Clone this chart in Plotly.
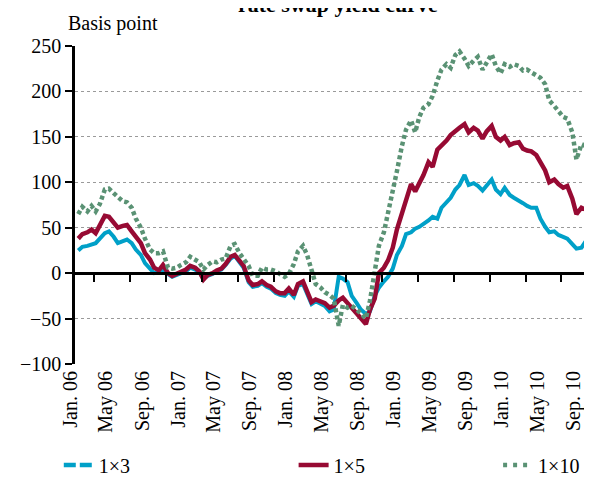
import pandas as pd
import plotly.graph_objects as go

# ---- data (semi-monthly readings, basis points) ----
dates = pd.date_range("2006-01-01", "2010-10-15", freq="SMS")

y_1x3 = [25, 29, 30, 31, 33, 38, 44, 46, 40, 33, 35, 37, 33, 26, 20, 11, 5, 0, 1, 3, -1, -4, -2, 0,
         2, 6, 4, 1, -6, -3, -1, 2, 4, 9, 16, 19, 12, 6, -10, -15, -14, -11, -15, -17, -22, -24, -25, -20,
         -26, -14, -12, -23, -34, -31, -34, -36, -42, -40, -4, -6, -10, -25, -33, -40, -45, -42, -25, -16, -9, -4, 5, 20,
         30, 43, 45, 49, 51, 54, 58, 62, 60, 72, 78, 83, 92, 97, 108, 97, 99, 96, 91, 97, 103, 92, 87, 94,
         86, 83, 79, 77, 74, 72, 72, 60, 51, 45, 46, 42, 40, 38, 32, 27, 28, 35, 30, 37]

y_1x5 = [38, 43, 45, 48, 44, 52, 63, 62, 55, 50, 52, 53, 46, 40, 33, 22, 15, 6, 3, 9, 0, -3, -1, 1,
         4, 8, 6, 2, -7, -2, 0, 3, 5, 10, 18, 20, 14, 8, -8, -13, -12, -9, -13, -15, -20, -22, -22, -17,
         -24, -12, -9, -20, -32, -29, -31, -33, -38, -36, -30, -27, -33, -38, -45, -50, -56, -40, -28, 0, 6, 14, 28, 48,
         65, 80, 98, 90, 98, 108, 122, 117, 136, 140, 146, 152, 157, 160, 164, 155, 160, 157, 148, 156, 162, 150, 146, 150,
         141, 143, 144, 137, 135, 134, 130, 123, 113, 100, 103, 98, 94, 96, 82, 65, 72, 70, 72, 72]

y_1x10 = [65, 73, 68, 74, 68, 76, 92, 93, 88, 84, 79, 78, 72, 60, 50, 38, 26, 22, 22, 24, 6, 5, 6, 9,
          12, 18, 15, 12, 4, 9, 13, 12, 15, 16, 30, 32, 22, 16, 8, -3, -3, 6, 4, 4, 2, -1, -4, -1,
          10, 24, 30, 20, 2, -12, -16, -21, -24, -28, -58, -35, -38, -36, -40, -44, -50, -30, 5, 30, 45, 65, 88, 112,
          140, 158, 168, 155, 172, 182, 186, 195, 212, 224, 230, 226, 240, 244, 236, 228, 234, 238, 224, 232, 241, 228, 220, 230,
          227, 230, 228, 223, 224, 221, 218, 215, 208, 190, 184, 178, 172, 170, 155, 125, 142, 140, 138, 135]

label_dates = ["2006-01-01", "2006-05-01", "2006-09-01", "2007-01-01", "2007-05-01", "2007-09-01",
               "2008-01-01", "2008-05-01", "2008-09-01", "2009-01-01", "2009-05-01", "2009-09-01",
               "2010-01-01", "2010-05-01", "2010-09-01"]
tick_labels = ["Jan. 06", "May 06", "Sep. 06", "Jan. 07", "May 07", "Sep. 07", "Jan. 08", "May 08",
               "Sep. 08", "Jan. 09", "May 09", "Sep. 09", "Jan. 10", "May 10", "Sep. 10"]
tick_mark_dates = ["2006-02-25", "2006-06-25", "2006-10-25", "2007-02-25", "2007-06-25", "2007-10-25",
                   "2008-02-25", "2008-06-25", "2008-10-25", "2009-02-25", "2009-06-25", "2009-10-25",
                   "2010-02-25", "2010-06-25", "2010-10-25"]

series_names = ["1×3", "1×5", "1×10"]
colors = ["#00A0C8", "#970A33", "#5A9274"]

FONT = "Liberation Serif, Times New Roman, DejaVu Serif, serif"
x_range = ["2005-12-21", "2010-10-27"]

fig = go.Figure()

# plotted lines
fig.add_trace(go.Scatter(x=dates, y=y_1x3, mode="lines", showlegend=False,
                         line=dict(color=colors[0], width=4)))
fig.add_trace(go.Scatter(x=dates, y=y_1x5, mode="lines", showlegend=False,
                         line=dict(color=colors[1], width=4.5)))
fig.add_trace(go.Scatter(x=dates, y=y_1x10, mode="lines", showlegend=False,
                         line=dict(color=colors[2], width=4.5, dash="4px,3px")))

# legend entries
fig.add_trace(go.Scatter(x=[None], y=[None], mode="lines", name=series_names[0], legend="legend",
                         line=dict(color=colors[0], width=4.5, dash="12px,4px")))
fig.add_trace(go.Scatter(x=[None], y=[None], mode="lines", name=series_names[1], legend="legend2",
                         line=dict(color=colors[1], width=4.5)))
fig.add_trace(go.Scatter(x=[None], y=[None], mode="lines", name=series_names[2], legend="legend3",
                         line=dict(color=colors[2], width=4.5, dash="4px,6px")))

# helper trace for zero-line axis
fig.add_trace(go.Scatter(x=[dates[0]], y=[None], xaxis="x2", showlegend=False, hoverinfo="skip"))

ymin, ymax = -100, 250
zero_pos = (0 - ymin) / (ymax - ymin)

leg_common = dict(orientation="h", yanchor="middle", xanchor="left", y=-0.318,
                  font=dict(family=FONT, size=20, color="black"), bgcolor="rgba(0,0,0,0)",
                  itemwidth=30)

fig.update_layout(
    width=592, height=478,
    margin=dict(l=67, r=2, t=38, b=115),
    paper_bgcolor="white", plot_bgcolor="white",
    font=dict(family=FONT, size=20, color="black"),
    xaxis=dict(type="date", range=x_range, tickmode="array", tickvals=label_dates, ticktext=tick_labels,
               tickangle=-90, ticks="", showgrid=False, zeroline=False, showline=False,
               ticklabelshift=-8, ticklabelstandoff=2,
               tickfont=dict(family=FONT, size=20, color="black")),
    xaxis2=dict(type="date", overlaying="x", matches="x", anchor="free", position=zero_pos, side="bottom",
                tickmode="array", tickvals=tick_mark_dates, showticklabels=False,
                ticks="outside", ticklen=7, tickwidth=2, tickcolor="black",
                showline=True, linecolor="black", linewidth=2.5, showgrid=False, zeroline=False),
    yaxis=dict(range=[ymin, ymax], tickmode="linear", tick0=-100, dtick=50,
               ticks="outside", ticklen=7, tickwidth=2, tickcolor="black",
               showline=True, linecolor="black", linewidth=2.5,
               showgrid=True, gridcolor="#9a9a9a", gridwidth=1, griddash="dot",
               zeroline=False, tickfont=dict(family=FONT, size=20, color="black")),
    legend=dict(x=-0.031, **leg_common),
    legend2=dict(x=0.418, **leg_common),
    legend3=dict(x=0.809, **leg_common),
    annotations=[
        dict(text="Basis point", xref="paper", yref="paper", x=0, y=1, xanchor="left", yanchor="bottom",
             yshift=9, xshift=-9, showarrow=False, font=dict(family=FONT, size=20, color="black")),
        dict(text="<b>rate swap yield curve</b>", xref="paper", yref="paper", x=0.503, y=1,
             xanchor="center", yanchor="bottom", yshift=27, showarrow=False,
             font=dict(family=FONT, size=22, color="black")),
    ],
)

fig.write_html("out.html")
